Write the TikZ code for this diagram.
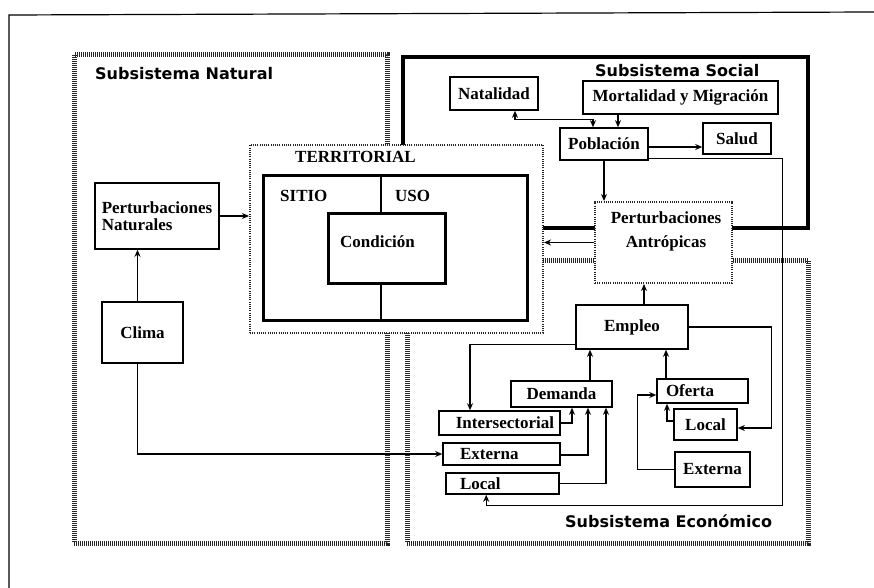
\documentclass[tikz,border=0pt]{standalone}
\usepackage{fontspec}
\setmainfont{Liberation Serif}
\newfontfamily\subsfont{DejaVu Sans}
\usetikzlibrary{arrows.meta,calc}
\newcommand\lblfont{\fontsize{17}{17}\selectfont\bfseries}
\newcommand\subfnt{\subsfont\fontsize{16}{16}\selectfont\bfseries}
\begin{document}
\begin{tikzpicture}[x=1pt,y=-1pt,
  box/.style={draw, line width=1.6pt, fill=white, inner sep=0pt, font=\lblfont, align=center},
  thickbox/.style={draw, line width=3pt, fill=white, inner sep=0pt},
  dotbox/.style={draw=black!85, line width=2pt, dash pattern=on 1pt off 1.2pt, fill=white, inner sep=0pt},
  checker/.style={draw=black!85, line width=5pt, dash pattern=on 1pt off 1pt, inner sep=0pt},
  socialbox/.style={draw, line width=4.5pt, inner sep=0pt},
  lbl/.style={inner sep=0pt, font=\lblfont},
  sublbl/.style={inner sep=0pt, font=\subfnt},
  arr/.style={line width=1.3pt, -{Stealth[length=7pt,width=6pt]}},
  darr/.style={line width=1.3pt, {Stealth[length=7pt,width=6pt]}-{Stealth[length=7pt,width=6pt]}}
]
\useasboundingbox (0,0) rectangle (874,588);
\fill[white] (0,0) rectangle (874,588);

% outer frame
\draw[line width=1.2pt] (9,588) -- (9,15) -- (874,12);

% subsystems
\node[checker, minimum width=313pt, minimum height=488pt] (nat) at (230.5,299) {};
\node[socialbox, minimum width=405pt, minimum height=171pt] (soc) at (605.5,142.5) {};
\node[checker, minimum width=401pt, minimum height=283pt] (eco) at (607.5,401.5) {};
\node[sublbl, anchor=base west] (natl) at (95,80) {Subsistema Natural};
\node[sublbl, anchor=base west] (socl) at (595,77) {Subsistema Social};
\node[sublbl, anchor=base west] (ecol) at (565,527) {Subsistema Económico};

% territorial
\node[dotbox, minimum width=293pt, minimum height=188pt] (terr) at (396.5,239) {};
\node[lbl, anchor=base] (terrl) at (355.5,163) {TERRITORIAL};
\node[thickbox, minimum width=264pt, minimum height=145pt] (tin) at (395,247.5) {};
\node[thickbox, minimum width=117pt, minimum height=70pt] (cond) at (386.5,248) {};
\node[lbl] (condl) at (377.5,242) {Condición};
\coordinate (dv1) at ($(cond.north)+(-5.5,0)$);
\coordinate (dv2) at ($(cond.south)+(-5.5,0)$);
\draw[line width=2.2pt] (dv1) -- (dv1 |- tin.north);
\draw[line width=2.2pt] (dv2) -- (dv2 |- tin.south);
\node[lbl, anchor=base west] (sitio) at (280,201) {SITIO};
\node[lbl, anchor=base west] (uso) at (395,201) {USO};

% perturbaciones antropicas
\node[dotbox, minimum width=137pt, minimum height=81pt] (pantr) at (663.5,242.5) {};
\node[lbl, align=center, font=\fontsize{17}{24}\selectfont\bfseries] (pantrl) at (666,231.5) {Perturbaciones\\Antrópicas};

% natural
\node[box, minimum width=124pt, minimum height=66pt, align=left, font=\fontsize{17}{17.5}\selectfont\bfseries] (pnat) at (157,216) {Perturbaciones\\Naturales};
\node[box, minimum width=81pt, minimum height=61pt] (clima) at (142.5,332.5) {Clima};

% social
\node[box, minimum width=88pt, minimum height=33pt] (natal) at (494,93.5) {Natalidad};
\node[box, minimum width=195pt, minimum height=33pt] (mort) at (680.5,97.5) {Mortalidad y Migración};
\node[box, minimum width=88pt, minimum height=32pt] (pobl) at (604,144) {Población};
\node[box, minimum width=68pt, minimum height=31pt] (salud) at (737,138.5) {Salud};

% economic
\node[box, minimum width=112pt, minimum height=44pt] (empleo) at (632,327) {Empleo};
\node[box, minimum width=101pt, minimum height=26pt] (demanda) at (561.5,394) {Demanda};
\node[box, minimum width=91pt, minimum height=24pt, text width=73pt, align=left] (oferta) at (702.5,391) {Oferta};
\node[box, minimum width=121pt, minimum height=24pt, text width=109pt, align=right] (inters) at (499.5,423) {Intersectorial};
\node[box, minimum width=117pt, minimum height=22pt, text width=83pt, align=left] (extl) at (501.5,454) {Externa};
\node[box, minimum width=113pt, minimum height=21pt, text width=85pt, align=left] (locl) at (502.5,483.5) {Local};
\node[box, minimum width=63pt, minimum height=31pt] (locr) at (705.5,424.5) {Local};
\node[box, minimum width=75pt, minimum height=35pt] (extr) at (712.5,469.5) {Externa};

% connectors: natural
\draw[arr] (pnat.east) -- (pnat.east -| terr.west);
\coordinate (c1) at ($(clima.north)+(-5,0)$);
\draw[arr] (c1) -- (c1 |- pnat.south);
\coordinate (c2) at ($(clima.south)+(-5,0)$);
\draw[arr] (c2) |- (extl.west);

% connectors: social
\draw[darr] ($(natal.south)+(21,0)$) |- ($(pobl.north)+(-11,-8)$) -- ($(pobl.north)+(-11,0)$);
\coordinate (m1) at ($(pobl.north)+(14,0)$);
\draw[arr] (m1 |- mort.south) -- (m1);
\coordinate (ps) at ($(pobl.east)+(0,3)$);
\draw[arr] (ps) -- (ps -| salud.west);
\draw[arr] (pobl.south) -- (pobl.south |- pantr.north);
\coordinate (pl) at ($(pobl.south east)+(0,-2)$);
\coordinate (ll) at ($(locl.south west)+(41,0)$);
\coordinate (rr) at ($(ll)+(296,11)$);
\draw[arr] (pl) -| (rr) -| (ll);
\draw[arr] (pantr.west) -- (pantr.west -| terr.east);

% connectors: economic
\coordinate (e1) at ($(empleo.north)+(12,0)$);
\draw[arr] (e1) -- (e1 |- pantr.south);
\coordinate (e2) at ($(empleo.south west)+(0,-5)$);
\draw[arr] (e2) -| ($(inters.north)+(-29.5,0)$);
\draw[arr] (empleo.east) -- ++(83,0) |- ($(locr.east)+(0,3.5)$);
\coordinate (d1) at ($(demanda.north)+(28.5,0)$);
\draw[arr] (d1) -- (d1 |- empleo.south);
\coordinate (o1) at ($(oferta.north)+(-36.5,0)$);
\draw[arr] (o1) -- (o1 |- empleo.south);
\draw[arr] (inters.east) -| ($(demanda.south)+(10.5,0)$);
\draw[arr] ($(extl.east)+(0,1)$) -| ($(demanda.south)+(26.5,0)$);
\draw[arr] (locl.east) -| ($(demanda.south)+(44.5,0)$);
\draw[arr] ($(locr.west)+(0,-3.5)$) -| ($(oferta.south)+(-35.5,0)$);
\draw[arr] (extr.west) -- ++(-37,0) |- ($(oferta.west)+(0,4)$);
\end{tikzpicture}
\end{document}
